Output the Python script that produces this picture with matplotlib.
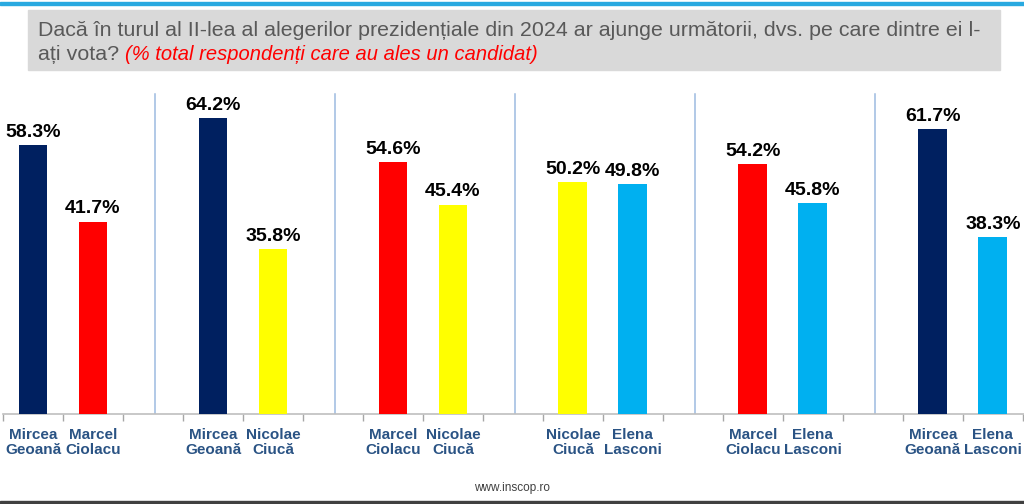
import matplotlib.pyplot as plt
import numpy as np

# ============================================
# DATA
# ============================================
candidate_a = ["Mircea\nGeoană", "Mircea\nGeoană", "Marcel\nCiolacu",
               "Nicolae\nCiucă", "Marcel\nCiolacu", "Mircea\nGeoană"]
values_a = [58.3, 64.2, 54.6, 50.2, 54.2, 61.7]
candidate_b = ["Marcel\nCiolacu", "Nicolae\nCiucă", "Nicolae\nCiucă",
               "Elena\nLasconi", "Elena\nLasconi", "Elena\nLasconi"]
values_b = [41.7, 35.8, 45.4, 49.8, 45.8, 38.3]

colors = {
    "Mircea\nGeoană": "#002060",
    "Marcel\nCiolacu": "#ff0000",
    "Nicolae\nCiucă": "#ffff00",
    "Elena\nLasconi": "#00b0f0",
}

title_line1 = "Dacă în turul al II-lea al alegerilor prezidențiale din 2024 ar ajunge următorii, dvs. pe care dintre ei l-"
title_line2 = "ați vota? "
subtitle = "(% total respondenți care au ales un candidat)"
source = "www.inscop.ro"

# ============================================
# FIGURE
# ============================================
plt.rcParams['font.family'] = ['Liberation Sans', 'DejaVu Sans']
fig = plt.figure(figsize=(10.24, 5.04), dpi=100)
ax = fig.add_axes([3 / 1024, 90 / 504, 1021 / 1024, 323 / 504])

pos_a = np.arange(len(values_a)) * 3
pos_b = pos_a + 1
w = 0.48

ax.bar(pos_a, values_a, width=w, color=[colors[c] for c in candidate_a], zorder=3)
ax.bar(pos_b, values_b, width=w, color=[colors[c] for c in candidate_b], zorder=3)

for x, v in list(zip(pos_a, values_a)) + list(zip(pos_b, values_b)):
    ax.text(x, v + 0.9, f"{v:.1f}%", ha='center', va='bottom',
            fontsize=14, fontweight='bold', color='black')

# separators between the match-ups
for k in range(len(values_a) - 1):
    ax.axvline(3 * k + 2.04, ymin=0, ymax=0.99, color='#9dbbe0', lw=1.1, zorder=1)

ax.set_xlim(-0.5, 16.52)
ax.set_ylim(0, 70)

ax.set_xticks(list(pos_a) + list(pos_b))
ax.set_xticklabels(candidate_a + candidate_b, fontsize=11, fontweight='bold',
                   color='#2a5384', linespacing=1.1)
ax.tick_params(axis='x', which='major', length=0, pad=10)
ax.set_xticks(np.arange(-0.5, 17, 1), minor=True)
ax.tick_params(axis='x', which='minor', length=5, color='#a6a6a6', width=1)
ax.set_yticks([])

for s in ['top', 'right', 'left']:
    ax.spines[s].set_visible(False)
ax.spines['bottom'].set_color('#bfbfbf')
ax.spines['bottom'].set_linewidth(1.2)

# ============================================
# HEADER / FOOTER
# ============================================
fig.patches.append(plt.Rectangle((28 / 1024, 1 - 70 / 504), 972 / 1024, 60 / 504,
                                 transform=fig.transFigure, color='#d9d9d9', zorder=0))
fig.patches.append(plt.Rectangle((0, 1 - 5 / 504), 1, 3 / 504,
                                 transform=fig.transFigure, color='#29a9e0', zorder=0))
fig.patches.append(plt.Rectangle((0, 0), 1, 3 / 504,
                                 transform=fig.transFigure, color='#404040', zorder=0))

t1 = fig.text(38 / 1024, 1 - 30 / 504, title_line1, fontsize=15.4, color='#595959',
              va='center', ha='left')
t2 = fig.text(38 / 1024, 1 - 55 / 504, title_line2, fontsize=15.4, color='#595959',
              va='center', ha='left')
fig.canvas.draw()
bb = t2.get_window_extent()
fig.text(bb.x1 / 1024, 1 - 55 / 504, subtitle, fontsize=14.5, color='#ff0000',
         style='italic', va='center', ha='left')

fig.text(0.5, 1 - 488 / 504, source, fontsize=8.5, color='#404040', ha='center', va='center')

plt.savefig('out.png', dpi=100)
